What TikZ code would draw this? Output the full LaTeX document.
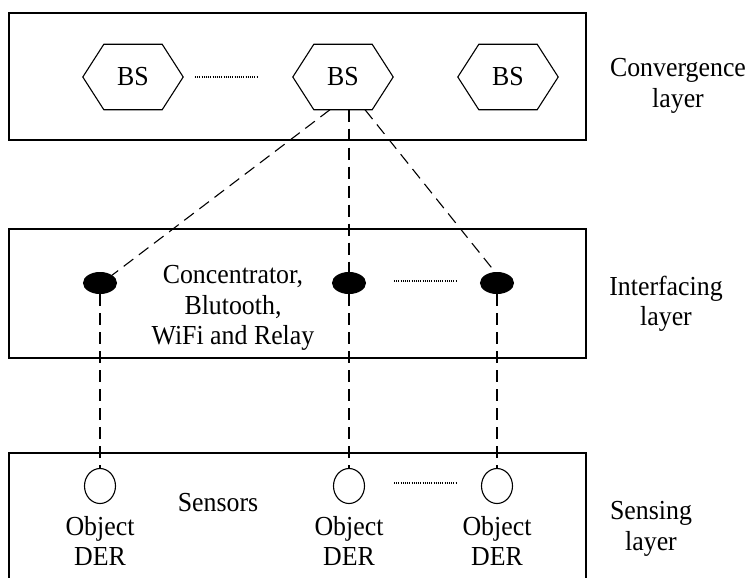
\documentclass[tikz,border=0pt]{standalone}
\usepackage{fontspec}
\setmainfont{Liberation Serif}[FakeStretch=0.94]
\usetikzlibrary{shapes.geometric}
\begin{document}
\begin{tikzpicture}[x=1pt,y=-1pt,
  layerbox/.style={draw, line width=1.2pt},
  txt/.style={font=\fontsize{27.5}{30.5}\selectfont, align=center, inner sep=0pt},
  bsnode/.style={minimum width=100pt, minimum height=65pt, inner sep=0pt, font=\fontsize{27.5}{31}\selectfont},
  hub/.style={ellipse, draw, fill=black, line width=1pt, minimum width=33pt, minimum height=21pt, inner sep=0pt},
  sensor/.style={ellipse, draw, fill=white, line width=1.1pt, minimum width=31pt, minimum height=35pt, inner sep=0pt},
  link/.style={line width=1.1pt, dash pattern=on 12pt off 7pt},
  more/.style={line width=1.3pt, dash pattern=on 1pt off 1.2pt}
]
\useasboundingbox (0,0) rectangle (752,578);

% layer frames
\draw[layerbox] (9,13) rectangle (586,140);
\draw[layerbox] (9,229) rectangle (586,358);
\draw[layerbox] (9,578) -- (9,453) -- (586,453) -- (586,578);

% base stations
\node[bsnode] (bs1) at (133,77) {BS};
\node[bsnode] (bs2) at (343,77) {BS};
\node[bsnode] (bs3) at (508,77) {BS};
\foreach \n in {bs1,bs2,bs3}
  \draw[line width=1.1pt] (\n.west) -- ([xshift=21pt]\n.north west) -- ([xshift=-21pt]\n.north east)
    -- (\n.east) -- ([xshift=-21pt]\n.south east) -- ([xshift=21pt]\n.south west) -- cycle;
\coordinate (m1a) at (195,77);
\coordinate (m1b) at (257,77);
\draw[more] (m1a) -- (m1b);

% interfacing hubs
\node[hub] (d1) at (100,283) {};
\node[hub] (d2) at (349,283) {};
\node[hub] (d3) at (497,283) {};
\coordinate (m2a) at (394,281);
\coordinate (m2b) at (457,281);
\draw[more] (m2a) -- (m2b);
\node[txt] (iface) at (233,308) {Concentrator,\\Blutooth,\\WiFi and Relay};

% sensors
\node[sensor] (c1) at (100,486) {};
\node[sensor] (c2) at (349,486) {};
\node[sensor] (c3) at (497,486) {};
\coordinate (m3a) at (394,483);
\coordinate (m3b) at (457,483);
\draw[more] (m3a) -- (m3b);
\node[txt] (sens) at (218,503) {Sensors};
\node[txt] (o1) at (100,541) {Object\\DER};
\node[txt] (o2) at (349,541) {Object\\DER};
\node[txt] (o3) at (497,541) {Object\\DER};

% links
\draw[link] ([xshift=-13pt]bs2.south) -- (d1.north east);
\draw[link] (bs2.south -| d2.north) -- (d2.north);
\draw[link] ([xshift=22pt]bs2.south) -- (d3.100);
\draw[link] (d1.south) -- (c1.north);
\draw[link] (d2.south) -- (c2.north);
\draw[link] (d3.south) -- (c3.north);

% layer names
\node[txt] (lconv) at (678,86) {Convergence\\layer};
\node[txt] (lint) at (666,304) {Interfacing\\layer};
\node[txt] (lsens) at (651,529) {Sensing\\layer};
\end{tikzpicture}
\end{document}
